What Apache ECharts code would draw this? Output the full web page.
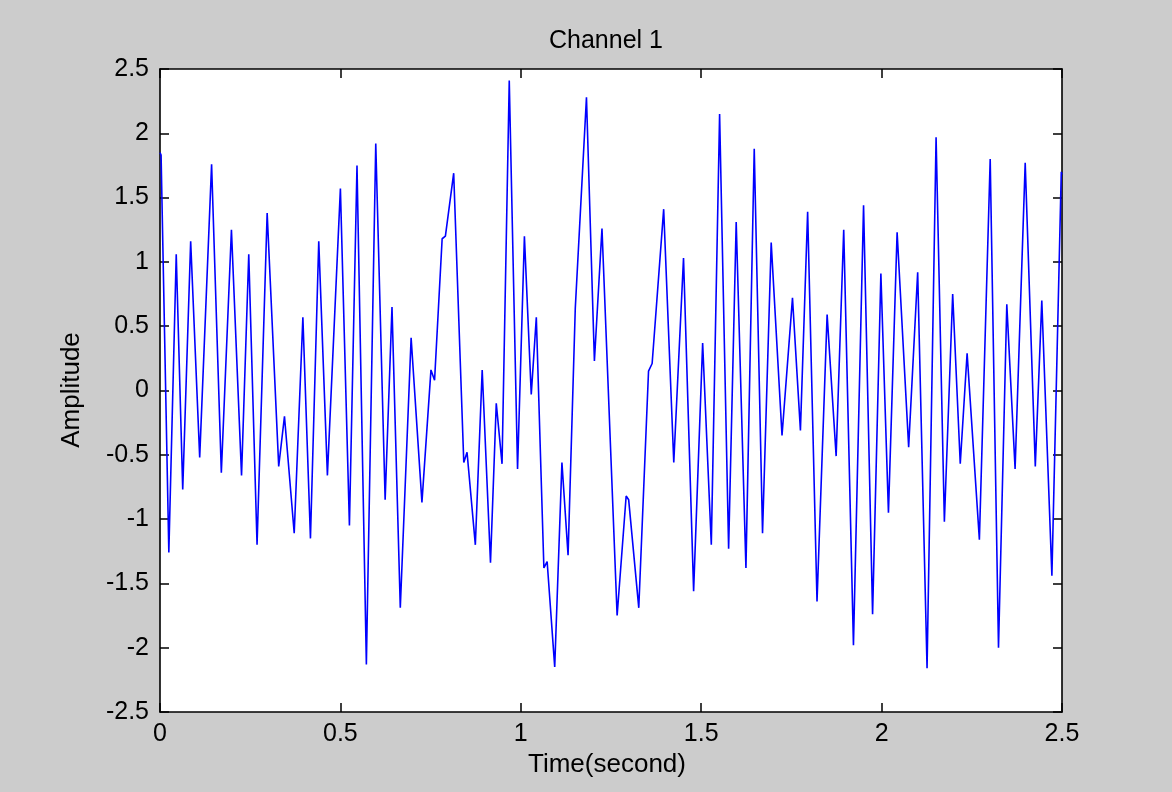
<!DOCTYPE html>
<html>
<head>
<meta charset="utf-8">
<script src="https://cdn.jsdelivr.net/npm/echarts/dist/echarts.min.js"></script>
<style>
  html, body { margin: 0; padding: 0; background: #cccccc; }
  #chart { width: 1172px; height: 792px; }
</style>
</head>
<body>
<div id="chart"></div>
<script>
// Time (s) of the turning points
const timeSec = [
  0.000, 0.003, 0.0245, 0.045, 0.063, 0.085, 0.110, 0.143, 0.170, 0.198,
  0.226, 0.246, 0.269, 0.297, 0.329, 0.345, 0.372, 0.396, 0.417, 0.440,
  0.464, 0.500, 0.525, 0.546, 0.572, 0.598, 0.624, 0.643, 0.666, 0.696,
  0.726, 0.751, 0.761, 0.782, 0.791, 0.814, 0.842, 0.851, 0.874, 0.893,
  0.916, 0.932, 0.948, 0.968, 0.991, 1.010, 1.029, 1.043, 1.064, 1.073,
  1.094, 1.114, 1.131, 1.151, 1.182, 1.204, 1.225, 1.267, 1.292, 1.299,
  1.327, 1.354, 1.364, 1.396, 1.424, 1.451, 1.479, 1.504, 1.528, 1.551,
  1.576, 1.597, 1.624, 1.647, 1.670, 1.694, 1.724, 1.753, 1.775, 1.795,
  1.821, 1.849, 1.874, 1.895, 1.922, 1.950, 1.975, 1.998, 2.019, 2.043,
  2.075, 2.100, 2.126, 2.151, 2.174, 2.197, 2.218, 2.237, 2.271, 2.301,
  2.324, 2.347, 2.370, 2.398, 2.426, 2.444, 2.472, 2.498, 2.500
];
// Amplitude at those times
const amplitude = [
  1.85, 1.83, -1.26, 1.06, -0.77, 1.16, -0.52, 1.76, -0.64, 1.25,
  -0.66, 1.06, -1.20, 1.38, -0.59, -0.20, -1.11, 0.57, -1.15, 1.16,
  -0.66, 1.57, -1.05, 1.75, -2.13, 1.92, -0.85, 0.65, -1.69, 0.41,
  -0.87, 0.16, 0.08, 1.18, 1.20, 1.69, -0.56, -0.48, -1.20, 0.16,
  -1.34, -0.10, -0.57, 2.41, -0.61, 1.20, -0.03, 0.57, -1.38, -1.33,
  -2.15, -0.56, -1.28, 0.64, 2.28, 0.23, 1.26, -1.75, -0.82, -0.85,
  -1.69, 0.15, 0.21, 1.41, -0.56, 1.03, -1.56, 0.37, -1.20, 2.15,
  -1.23, 1.31, -1.38, 1.88, -1.11, 1.15, -0.35, 0.72, -0.31, 1.39,
  -1.64, 0.59, -0.51, 1.25, -1.98, 1.44, -1.74, 0.91, -0.95, 1.23,
  -0.44, 0.92, -2.16, 1.97, -1.02, 0.75, -0.57, 0.29, -1.16, 1.80,
  -2.00, 0.67, -0.61, 1.77, -0.59, 0.70, -1.44, 1.70, 1.68
];

const titleText = 'Channel 1';
const xLabelText = 'Time(second)';
const yLabelText = 'Amplitude';

const FONT = '"Liberation Sans", Arial, sans-serif';
const chart = echarts.init(document.getElementById('chart'), null, { renderer: 'canvas' });

function axisCommon(extra) {
  return Object.assign({
    type: 'value',
    axisLine: { show: true, onZero: false, lineStyle: { color: '#000', width: 1.6 } },
    axisTick: { show: true, inside: true, length: 9, lineStyle: { color: '#000', width: 1.5 } },
    splitLine: { show: false },
    axisLabel: { show: false }
  }, extra);
}

const option = {
  animation: false,
  backgroundColor: '#cccccc',
  grid: { left: 160, right: 110, top: 69, bottom: 80, show: true, backgroundColor: '#ffffff', borderWidth: 0 },
  xAxis: [
    axisCommon({ min: 0, max: 2.5, interval: 0.5, position: 'bottom',
      axisLabel: { show: true, color: '#000', fontFamily: FONT, fontSize: 25, margin: 10, showMinLabel: true, showMaxLabel: true } }),
    axisCommon({ min: 0, max: 2.5, interval: 0.5, position: 'top' })
  ],
  yAxis: [
    axisCommon({ min: -2.5, max: 2.5, interval: 0.5, position: 'left',
      axisLabel: { show: true, color: '#000', fontFamily: FONT, fontSize: 25, margin: 11, showMinLabel: true, showMaxLabel: true } }),
    axisCommon({ min: -2.5, max: 2.5, interval: 0.5, position: 'right' })
  ],
  series: [{
    type: 'line',
    xAxisIndex: 0,
    yAxisIndex: 0,
    showSymbol: false,
    data: timeSec.map((t, i) => [t, amplitude[i]]),
    lineStyle: { color: '#0000ff', width: 1.6 },
    itemStyle: { color: '#0000ff' }
  }],
  graphic: [
    { type: 'text', x: 606, y: 41, style: { text: titleText, fill: '#000', font: '25px ' + FONT, textAlign: 'center', textVerticalAlign: 'middle' } },
    { type: 'text', x: 607, y: 765, style: { text: xLabelText, fill: '#000', font: '26px ' + FONT, textAlign: 'center', textVerticalAlign: 'middle' } },
    { type: 'text', x: 72, y: 390, rotation: Math.PI / 2, style: { text: yLabelText, fill: '#000', font: '26px ' + FONT, textAlign: 'center', textVerticalAlign: 'middle' } }
  ]
};
chart.setOption(option);
</script>
</body>
</html>
